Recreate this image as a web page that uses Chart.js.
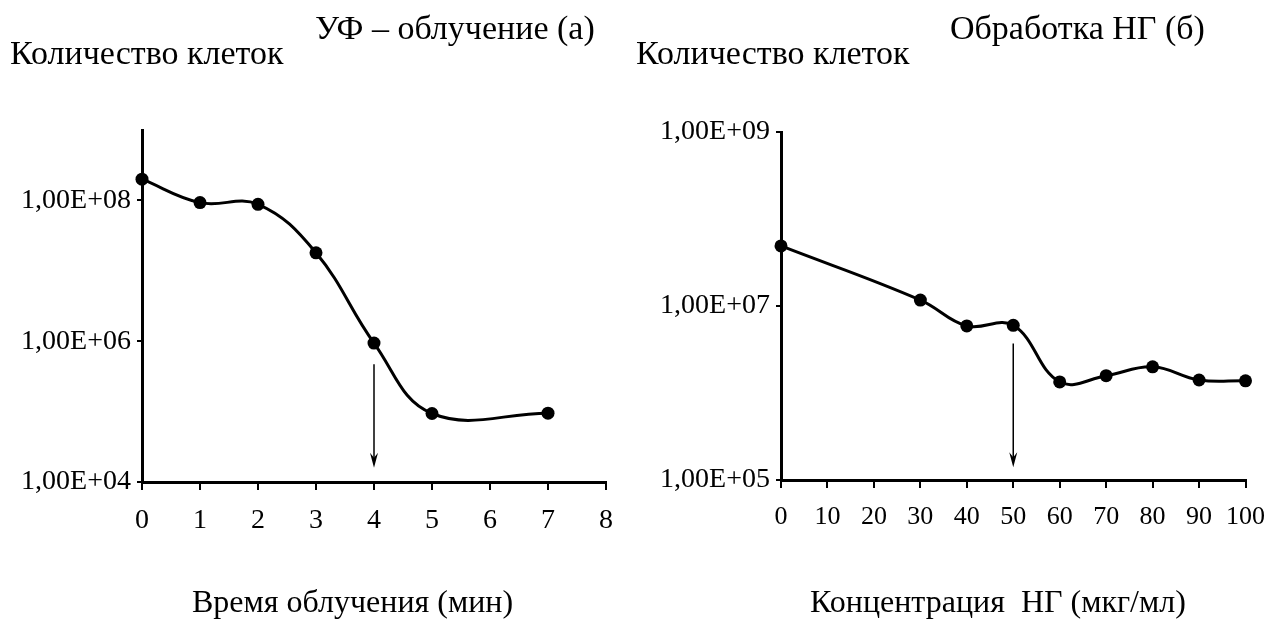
<!DOCTYPE html>
<html lang="ru">
<head>
<meta charset="utf-8">
<script src="https://cdn.jsdelivr.net/npm/chart.js@4.4.0/dist/chart.umd.min.js"></script>
<style>
  html, body { margin: 0; padding: 0; background: #fff; }
  #page { position: relative; width: 1279px; height: 628px; overflow: hidden;
          font-family: "Liberation Serif", "Times New Roman", serif; color: #000; }
  .box { position: absolute; top: 0; }
  .lbl { position: absolute; font-size: 34px; line-height: 34px; white-space: pre; }
  .xt  { font-size: 32px; line-height: 32px; }
</style>
</head>
<body>
<div id="page">
  <div class="box" style="left:0"><canvas id="uv" width="640" height="628"></canvas></div>
  <div class="box" style="left:640px"><canvas id="ng" width="639" height="628"></canvas></div>

  <div class="lbl" style="left:315px;top:11px">УФ – облучение (а)</div>
  <div class="lbl" style="left:10px;top:36px">Количество клеток</div>
  <div class="lbl xt" style="left:192px;top:585px">Время облучения (мин)</div>

  <div class="lbl" style="left:950px;top:11px">Обработка НГ (б)</div>
  <div class="lbl" style="left:636px;top:36px">Количество клеток</div>
  <div class="lbl xt" style="left:810px;top:585px">Концентрация  НГ (мкг/мл)</div>
</div>

<script>
// ---- UV exposure (a) ----
const uvMinutes = [0, 1, 2, 3, 4, 5, 7];
const uvCells   = [2.0e8, 9.3e7, 8.8e7, 1.8e7, 9.4e5, 9.4e4, 9.5e4];
const uvYTicks  = [1e4, 1e6, 1e8];
const uvArrow   = { at: 4, from: 4.7e5, to: 1.6e4 };

// ---- NG treatment (b) ----
const ngDose   = [0, 30, 40, 50, 60, 70, 80, 90, 100];
const ngCells  = [4.9e7, 1.17e7, 5.9e6, 6.0e6, 1.34e6, 1.58e6, 2.0e6, 1.41e6, 1.38e6];
const ngYTicks = [1e5, 1e7, 1e9];
const ngArrow  = { at: 50, from: 3.7e6, to: 1.4e5 };

const FONT = "'Liberation Serif', 'Times New Roman', serif";

// 1,00E+08 style labels
function sci(v){
  const e = Math.round(Math.log10(v));
  return "1,00E+" + String(e).padStart(2, "0");
}

// thin down arrow marking the chosen dose
const arrowPlugin = {
  id: "doseArrow",
  afterDatasetsDraw(chart, args, opts){
    const { ctx, scales } = chart;
    const x  = scales.x.getPixelForValue(opts.at);
    const y1 = scales.y.getPixelForValue(opts.from);
    const y2 = scales.y.getPixelForValue(opts.to);
    ctx.save();
    ctx.strokeStyle = "#000";
    ctx.fillStyle = "#000";
    ctx.lineWidth = 1.5;
    ctx.beginPath();
    ctx.moveTo(x, y1);
    ctx.lineTo(x, y2 - 8);
    ctx.stroke();
    ctx.beginPath();
    ctx.moveTo(x, y2);
    ctx.lineTo(x - 4, y2 - 15);
    ctx.lineTo(x, y2 - 10);
    ctx.lineTo(x + 4, y2 - 15);
    ctx.closePath();
    ctx.fill();
    ctx.restore();
  }
};

function makeChart(id, xs, ys, cfg){
  return new Chart(document.getElementById(id), {
    type: "line",
    data: {
      datasets: [{
        data: xs.map((x, i) => ({ x: x, y: ys[i] })),
        borderColor: "#000",
        borderWidth: 3,
        tension: 0.4,
        pointRadius: 6.5,
        pointBackgroundColor: "#000",
        pointBorderWidth: 0,
        clip: false
      }]
    },
    options: {
      responsive: false,
      animation: false,
      events: [],
      layout: { padding: { top: cfg.top, right: cfg.right, left: 0, bottom: 0 } },
      plugins: { legend: { display: false }, tooltip: { enabled: false }, doseArrow: cfg.arrow },
      scales: {
        x: {
          type: "linear",
          min: cfg.xMin, max: cfg.xMax,
          ticks: { stepSize: cfg.xStep, color: "#000", padding: 14,
                   font: { family: FONT, size: cfg.xFont } },
          grid: { drawOnChartArea: false, tickLength: 8, color: "#000", lineWidth: 2 },
          border: { color: "#000", width: 3 },
          afterFit: s => { s.height = 628 - cfg.bottom; }
        },
        y: {
          type: "logarithmic",
          min: cfg.yMin, max: cfg.yMax,
          afterBuildTicks: s => { s.ticks = cfg.yTicks.map(v => ({ value: v })); },
          ticks: { callback: v => sci(v), color: "#000", padding: 6,
                   font: { family: FONT, size: 28 } },
          grid: { drawOnChartArea: false, tickLength: 5, color: "#000", lineWidth: 2 },
          border: { color: "#000", width: 3 },
          afterFit: s => { s.width = cfg.left; }
        }
      }
    },
    plugins: [arrowPlugin]
  });
}

makeChart("uv", uvMinutes, uvCells, {
  left: 142, top: 130, right: 34, bottom: 482,
  xMin: 0, xMax: 8, xStep: 1, xFont: 28,
  yMin: 1e4, yMax: 1e9, yTicks: uvYTicks, arrow: uvArrow
});

makeChart("ng", ngDose, ngCells, {
  left: 141, top: 132, right: 26, bottom: 480,
  xMin: 0, xMax: 100, xStep: 10, xFont: 26,
  yMin: 1e5, yMax: 1e9, yTicks: ngYTicks, arrow: ngArrow
});
</script>
</body>
</html>
